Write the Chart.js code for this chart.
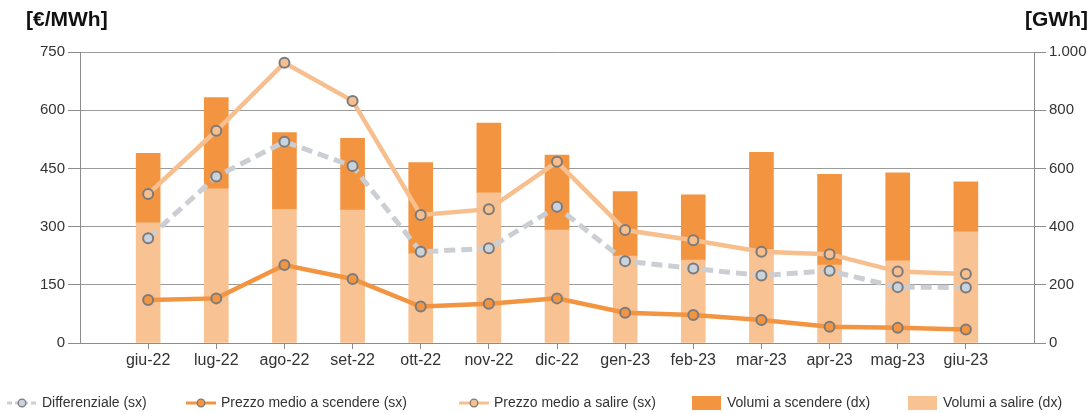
<!DOCTYPE html>
<html>
<head>
<meta charset="utf-8">
<script src="https://cdn.jsdelivr.net/npm/chart.js@4/dist/chart.umd.min.js"></script>
<style>
  html, body { margin: 0; padding: 0; background: #fff; }
  #wrap { width: 1090px; height: 413px; position: relative; }
</style>
</head>
<body>
<div id="wrap"><canvas id="c"></canvas></div>
<script>
// Mesi del periodo
const categories = ['giu-22', 'lug-22', 'ago-22', 'set-22', 'ott-22', 'nov-22', 'dic-22',
                    'gen-23', 'feb-23', 'mar-23', 'apr-23', 'mag-23', 'giu-23'];

// Prezzi [€/MWh] (asse sinistro)
const differenziale  = [270, 429, 519, 456, 235, 244, 351, 211, 192, 174, 186, 144, 143];
const prezzoScendere = [111, 115, 201, 165,  94, 101, 115,  78,  72,  59,  42,  39,  35];
const prezzoSalire   = [384, 547, 722, 624, 330, 345, 467, 291, 265, 235, 229, 184, 178];

// Volumi [GWh] (asse destro)
const volumiSalire   = [413, 530, 459, 457, 307, 516, 388, 299, 285, 322, 268, 282, 382];
const volumiScendere = [239, 313, 264, 246, 313, 240, 258, 221, 224, 333, 312, 303, 172];

// Etichette degli assi
const leftTicks  = [0, 150, 300, 450, 600, 750];
const rightTicks = [0, 200, 400, 600, 800, 1000];
const leftTitle  = '[€/MWh]';
const rightTitle = '[GWh]';

const C_DARK  = '#f39441';
const C_LIGHT = '#f8c292';
const C_LINE_LIGHT = '#f8bf8e';
const C_GREY  = '#cbced3';
const C_MARK_BORDER = '#7b7b7b';
const C_AXIS  = '#8c8c8c';
const FONT = '"Liberation Sans", Arial, sans-serif';

// one empty slot on each side of the months
const pad = a => [null, ...a, null];
const labels = ['', ...categories, ''];

const itFmt = v => String(v).replace(/\B(?=(\d{3})+(?!\d))/g, '.');

const lineCommon = {
  type: 'line',
  yAxisID: 'y',
  tension: 0,
  borderWidth: 4.5,
  pointRadius: 5,
  pointBorderWidth: 2,
  pointBorderColor: C_MARK_BORDER,
  spanGaps: false
};

const legendItems = [
  { text: 'Differenziale (sx)', kind: 'line', color: C_GREY, fill: '#c9d3de', dash: true, x: 7 },
  { text: 'Prezzo medio a scendere (sx)', kind: 'line', color: C_DARK, fill: C_DARK, x: 186 },
  { text: 'Prezzo medio a salire (sx)', kind: 'line', color: C_LINE_LIGHT, fill: C_LINE_LIGHT, x: 459 },
  { text: 'Volumi a scendere (dx)', kind: 'box', color: C_DARK, x: 692 },
  { text: 'Volumi a salire (dx)', kind: 'box', color: C_LIGHT, x: 908 }
];

const decorations = {
  id: 'decorations',
  afterDraw(chart) {
    const ctx = chart.ctx;
    ctx.save();
    // titoli degli assi
    ctx.fillStyle = '#111';
    ctx.font = 'bold 21px ' + FONT;
    ctx.textBaseline = 'middle';
    ctx.textAlign = 'left';
    ctx.fillText(leftTitle, 26, 20);
    ctx.textAlign = 'right';
    ctx.fillText(rightTitle, 1088, 20);

    // legenda
    const ly = 403;
    ctx.font = '14px ' + FONT;
    ctx.textAlign = 'left';
    ctx.textBaseline = 'middle';
    legendItems.forEach(it => {
      if (it.kind === 'box') {
        ctx.fillStyle = it.color;
        ctx.fillRect(it.x, ly - 7, 29, 14);
        ctx.fillStyle = '#333';
        ctx.fillText(it.text, it.x + 35, ly);
      } else {
        ctx.strokeStyle = it.color;
        ctx.lineWidth = 3;
        ctx.setLineDash(it.dash ? [5, 3] : []);
        ctx.beginPath();
        ctx.moveTo(it.x, ly);
        ctx.lineTo(it.x + 30, ly);
        ctx.stroke();
        ctx.setLineDash([]);
        ctx.beginPath();
        ctx.arc(it.x + 15, ly, 3.8, 0, Math.PI * 2);
        ctx.fillStyle = it.fill;
        ctx.fill();
        ctx.lineWidth = 1.3;
        ctx.strokeStyle = C_MARK_BORDER;
        ctx.stroke();
        ctx.fillStyle = '#333';
        ctx.fillText(it.text, it.x + 35, ly);
      }
    });
    ctx.restore();
  }
};

new Chart(document.getElementById('c'), {
  data: {
    labels: labels,
    datasets: [
      Object.assign({}, lineCommon, {
        label: 'Differenziale (sx)',
        data: pad(differenziale),
        borderColor: C_GREY,
        borderDash: [11, 6],
        borderWidth: 5,
        pointBackgroundColor: '#c9d3de',
        order: 3
      }),
      Object.assign({}, lineCommon, {
        label: 'Prezzo medio a salire (sx)',
        data: pad(prezzoSalire),
        borderColor: C_LINE_LIGHT,
        pointBackgroundColor: C_LINE_LIGHT,
        order: 2
      }),
      Object.assign({}, lineCommon, {
        label: 'Prezzo medio a scendere (sx)',
        data: pad(prezzoScendere),
        borderColor: C_DARK,
        pointBackgroundColor: C_DARK,
        order: 1
      }),
      {
        type: 'bar',
        label: 'Volumi a salire (dx)',
        data: pad(volumiSalire),
        yAxisID: 'y1',
        backgroundColor: C_LIGHT,
        barThickness: 24,
        stack: 'vol',
        order: 10
      },
      {
        type: 'bar',
        label: 'Volumi a scendere (dx)',
        data: pad(volumiScendere),
        yAxisID: 'y1',
        backgroundColor: C_DARK,
        barThickness: 24,
        stack: 'vol',
        order: 11
      }
    ]
  },
  options: {
    responsive: true,
    maintainAspectRatio: false,
    animation: false,
    events: [],
    layout: { padding: { top: 52, bottom: 40, left: 0, right: 0 } },
    plugins: { legend: { display: false }, tooltip: { enabled: false } },
    scales: {
      x: {
        offset: false,
        stacked: true,
        grid: {
          offset: false,
          drawOnChartArea: false,
          tickLength: 6,
          tickColor: c => (c.index === 0 || c.index === labels.length - 1) ? 'rgba(0,0,0,0)' : C_AXIS
        },
        border: { color: C_AXIS },
        ticks: { autoSkip: false, maxRotation: 0, font: { family: FONT, size: 16 }, color: '#333', padding: 2 },
        afterFit: s => { s.height = 30; }
      },
      y: {
        position: 'left',
        min: 0,
        max: 750,
        afterBuildTicks: s => { s.ticks = leftTicks.map(v => ({ value: v })); },
        ticks: { font: { family: FONT, size: 15 }, color: '#333', padding: 3 },
        grid: { color: '#9b9b9b', tickLength: 12, tickColor: C_AXIS },
        border: { color: C_AXIS },
        afterFit: s => { s.width = 80; }
      },
      y1: {
        position: 'right',
        min: 0,
        max: 1000,
        stacked: true,
        afterBuildTicks: s => { s.ticks = rightTicks.map(v => ({ value: v })); },
        ticks: { font: { family: FONT, size: 15 }, color: '#333', padding: 3, callback: v => itFmt(v) },
        grid: { drawOnChartArea: false, tickLength: 12, tickColor: C_AXIS },
        border: { color: C_AXIS },
        afterFit: s => { s.width = 56; }
      }
    }
  },
  plugins: [decorations]
});
</script>
</body>
</html>
